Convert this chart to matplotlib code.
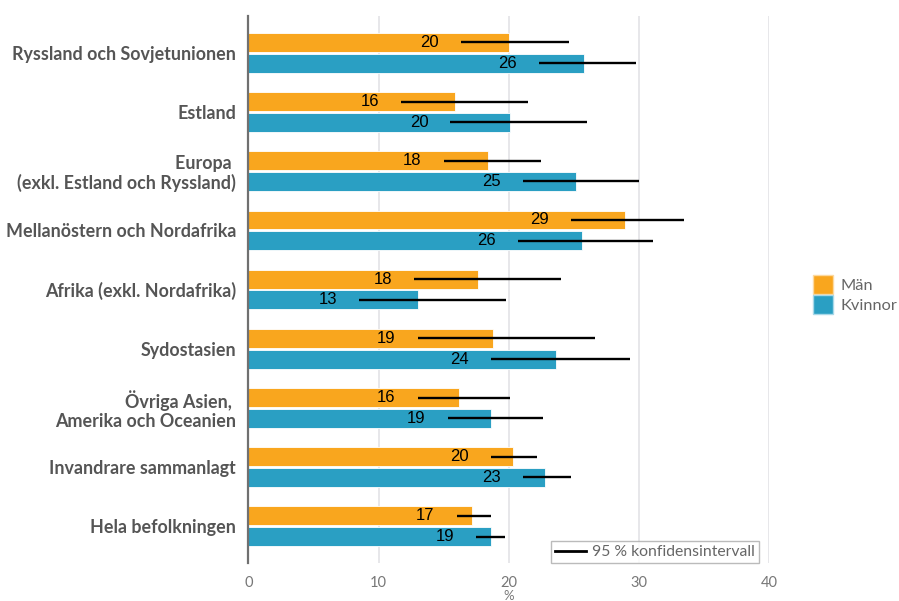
import matplotlib.pyplot as plt
import numpy as np
from matplotlib.patches import Patch
from matplotlib.lines import Line2D

# andel (%) per ursprungsregion, med 95 % konfidensintervall
regions = [
    "Ryssland och Sovjetunionen",
    "Estland",
    "Europa \n(exkl. Estland och Ryssland)",
    "Mellanöstern och Nordafrika",
    "Afrika (exkl. Nordafrika)",
    "Sydostasien",
    "Övriga Asien, \nAmerika och Oceanien",
    "Invandrare sammanlagt",
    "Hela befolkningen",
]
man = [20.0, 15.9, 18.4, 28.9, 17.6, 18.8, 16.2, 20.3, 17.2]
man_lo = [16.3, 11.7, 15.0, 24.8, 12.7, 13.0, 13.0, 18.6, 16.0]
man_hi = [24.6, 21.5, 22.5, 33.5, 24.0, 26.6, 20.1, 22.2, 18.6]
kvinnor = [25.8, 20.1, 25.2, 25.6, 13.0, 23.6, 18.6, 22.8, 18.6]
kvinnor_lo = [22.3, 15.5, 21.1, 20.7, 8.5, 18.6, 15.3, 21.1, 17.5]
kvinnor_hi = [29.8, 26.0, 30.0, 31.1, 19.8, 29.3, 22.6, 24.8, 19.7]

ORANGE = "#F9A61E"
BLUE = "#2A9FC3"
GREY = "#555555"

fig = plt.figure(figsize=(8.99, 6.01), dpi=100)
ax = fig.add_axes([0.2764, 0.0632, 0.5790, 0.9101])

y = np.arange(len(regions))
h = 0.32
off = 0.175

for vals, lo, hi, col, dy in [(man, man_lo, man_hi, ORANGE, -off),
                              (kvinnor, kvinnor_lo, kvinnor_hi, BLUE, off)]:
    ax.barh(y + dy, vals, height=h, color=col, edgecolor="white",
            linewidth=0.6, zorder=2)
    ax.hlines(y + dy, lo, hi, color="black", linewidth=1.7, zorder=3)
    for yi, v, l in zip(y + dy, vals, lo):
        ax.text(l - 2.4, yi, f"{v:.0f}", ha="center", va="center",
                fontsize=12, family="Liberation Sans", color="black",
                zorder=4)

ax.set_xlim(0, 40)
ax.set_ylim(len(regions) - 1 + 0.62, -0.62)
ax.set_xticks([0, 10, 20, 30, 40])
ax.set_yticks(y)
ax.set_yticklabels(regions, fontsize=12.9, fontweight="bold", family="Lato",
                   color=GREY, linespacing=1.1)
ax.tick_params(axis="y", length=0, pad=9)
ax.tick_params(axis="x", length=0, pad=9, labelsize=10.5, labelcolor="#777777")
for lab in ax.get_xticklabels():
    lab.set_family("Lato")

for xv in [10, 20, 30, 40]:
    ax.axvline(xv, color="#e3e3e6", linewidth=1.2, zorder=1)

for s in ["top", "right", "bottom"]:
    ax.spines[s].set_visible(False)
ax.spines["left"].set_color("#707070")
ax.spines["left"].set_linewidth(1.6)
ax.spines["left"].set_zorder(5)

ax.set_xlabel("%", fontsize=9.5, color="#777777", family="Lato", labelpad=0)

# konfidensintervall-förklaring nere till höger
ci = ax.legend(handles=[Line2D([], [], color="black", linewidth=2)],
               labels=["95 % konfidensintervall"], loc="lower right",
               bbox_to_anchor=(0.981, 0.0), borderaxespad=0, frameon=True,
               fancybox=False, handlelength=2.0, handletextpad=0.4,
               borderpad=0.25, prop={"family": "Lato", "size": 11.3})
ci.get_frame().set_edgecolor("#aaaaaa")
ci.get_frame().set_linewidth(1)
for t in ci.get_texts():
    t.set_color("#666666")

fig.legend(handles=[Patch(facecolor=ORANGE, edgecolor="#fcd9a0"),
                    Patch(facecolor=BLUE, edgecolor="#a8d8e8")],
           labels=["Män", "Kvinnor"], loc="upper left",
           bbox_to_anchor=(0.897, 0.553), frameon=False,
           handlelength=1.2, handleheight=1.35, handletextpad=0.45,
           labelspacing=0.1, borderaxespad=0,
           prop={"family": "Lato", "size": 11.8}, labelcolor="#666666")

fig.savefig("out.png", dpi=100)
